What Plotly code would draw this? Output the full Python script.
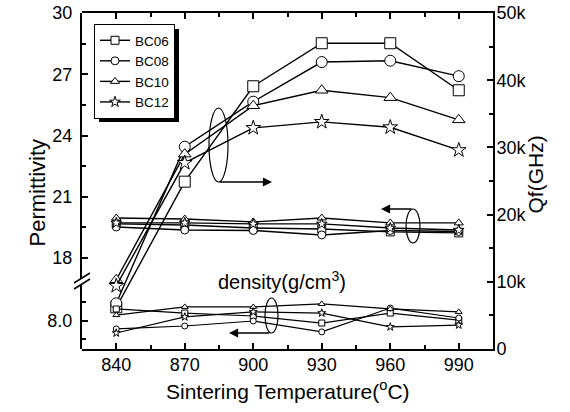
import plotly.graph_objects as go

temps = [840, 870, 900, 930, 960, 990]
names = ["BC06", "BC08", "BC10", "BC12"]
symbols = ["square", "circle", "triangle-up", "star"]

qf = {
    "BC06": [6200, 24900, 39100, 45500, 45500, 38500],
    "BC08": [6800, 30100, 36800, 42700, 42900, 40600],
    "BC10": [10300, 29000, 36200, 38500, 37400, 34100],
    "BC12": [9400, 27700, 32900, 33800, 33000, 29600],
}
permittivity = {
    "BC06": [19.67, 19.62, 19.47, 19.42, 19.28, 19.23],
    "BC08": [19.52, 19.37, 19.35, 19.13, 19.35, 19.30],
    "BC10": [19.96, 19.91, 19.77, 19.96, 19.72, 19.72],
    "BC12": [19.72, 19.72, 19.67, 19.67, 19.47, 19.37],
}
density = {
    "BC06": [8.065, 8.043, 8.027, 7.989, 8.043, 8.005],
    "BC08": [7.957, 7.973, 8.000, 7.941, 8.070, 8.016],
    "BC10": [8.032, 8.076, 8.076, 8.092, 8.065, 8.049],
    "BC12": [7.935, 8.022, 8.049, 8.043, 7.968, 7.978],
}

FONT = "Liberation Sans, Arial, sans-serif"
W, H = 570, 412
PL, PR, PT, PB = 82, 493, 13, 349  # plot area in pixels
L, T, R, B = PL, PT, W - PR, H - PB
PW, PH = PR - PL, PB - PT


def px(xp):
    return (xp - PL) / PW


def py(yp):
    return (PB - yp) / PH


fig = go.Figure()

for n, s in zip(names, symbols):
    fig.add_trace(go.Scatter(
        x=temps, y=qf[n], xaxis="x", yaxis="y", mode="lines+markers",
        line=dict(color="black", width=1.4), showlegend=False, legendgroup=n,
        marker=dict(symbol=s, size=11, color="white", line=dict(color="black", width=1)),
    ))
for n, s in zip(names, symbols):
    fig.add_trace(go.Scatter(
        x=temps, y=permittivity[n], xaxis="x", yaxis="y2", mode="lines+markers", name=n,
        line=dict(color="black", width=1.4), showlegend=True, legendgroup=n,
        marker=dict(symbol=s, size=8, color="white", line=dict(color="black", width=1)),
    ))
for n, s in zip(names, symbols):
    fig.add_trace(go.Scatter(
        x=temps, y=density[n], xaxis="x", yaxis="y3", mode="lines+markers",
        line=dict(color="black", width=1.2), showlegend=False, legendgroup=n,
        marker=dict(symbol=s, size=6, color="white", line=dict(color="black", width=1)),
    ))

axis_common = dict(showgrid=False, zeroline=False, showline=True, linecolor="black",
                   linewidth=2, ticks="inside", ticklen=6, tickwidth=1.5, tickcolor="black",
                   automargin=False,
                   tickfont=dict(family=FONT, size=18, color="black"))

fig.update_layout(
    width=W, height=H, margin=dict(l=L, r=R, t=T, b=B, autoexpand=False),
    paper_bgcolor="white", plot_bgcolor="rgba(0,0,0,0)",
    font=dict(family=FONT, color="black"),
    xaxis=dict(range=[825, 1005], domain=[0, 1], anchor="y", tick0=840, dtick=30,
               mirror="ticks", ticklabelstandoff=-2,
               minor=dict(dtick=15, tick0=840, ticks="inside", ticklen=4, tickcolor="black"),
               **axis_common),
    yaxis=dict(range=[0, 50000], domain=[0, 1], side="right", anchor="x", dtick=10000,
               tickformat="~s", ticklabelstandoff=-2,
               minor=dict(dtick=5000, ticks="inside", ticklen=4, tickcolor="black"),
               **axis_common),
    yaxis2=dict(range=[17.0, 30], domain=[0.21, 1], side="left", anchor="x", tick0=0, dtick=3,
                ticklabelstandoff=4,
                minor=dict(dtick=1.5, tick0=0, ticks="inside", ticklen=4, tickcolor="black"),
                **axis_common),
    yaxis3=dict(range=[7.8486, 8.1937], domain=[0, 0.19], side="left", anchor="x", tick0=8.0,
                dtick=0.2, tickformat=".1f", ticklabelstandoff=4,
                minor=dict(dtick=0.1, tick0=8.0, ticks="inside", ticklen=4, tickcolor="black"),
                **axis_common),
    legend=dict(x=px(94), y=py(24), xanchor="left", yanchor="top", bgcolor="white",
                bordercolor="black", borderwidth=1, font=dict(family=FONT, size=13.5),
                tracegroupgap=0, itemwidth=30),
)

shapes = []
# legend shadow
shapes.append(dict(type="rect", xref="paper", yref="paper", x0=px(99), x1=px(179),
                   y0=py(122), y1=py(29), fillcolor="black", line=dict(width=0), layer="above"))
# axis break marks
for dy in (-3, 3):
    shapes.append(dict(type="line", xref="paper", yref="paper", x0=px(74), x1=px(90),
                       y0=py(286 + dy), y1=py(276 + dy), line=dict(color="black", width=1.5)))
# ellipses
shapes.append(dict(type="circle", xref="paper", yref="paper", x0=px(209), x1=px(228),
                   y0=py(182), y1=py(108), line=dict(color="black", width=1.2)))
shapes.append(dict(type="circle", xref="paper", yref="paper", x0=px(406), x1=px(420),
                   y0=py(243), y1=py(209), line=dict(color="black", width=1.2)))
shapes.append(dict(type="circle", xref="paper", yref="paper", x0=px(265), x1=px(278),
                   y0=py(333), y1=py(298), line=dict(color="black", width=1.2)))
fig.update_layout(shapes=shapes)

ann = []
# arrows (tail offsets in pixels)
for (x0, y0, x1, y1) in [(218, 182, 272, 182), (413, 209, 381, 209), (271, 333, 229, 333)]:
    ann.append(dict(xref="paper", yref="paper", x=px(x1), y=py(y1), ax=x0 - x1, ay=y0 - y1,
                    axref="pixel", ayref="pixel", text="", showarrow=True,
                    arrowhead=2, arrowsize=1.3, arrowwidth=1.4, arrowcolor="black"))
ann.append(dict(xref="paper", yref="paper", x=px(282), y=py(295), text="density(g/cm<sup>3</sup>)",
                showarrow=False, font=dict(family=FONT, size=20)))
ann.append(dict(xref="paper", yref="paper", x=px(22), y=py(193), text="Permittivity",
                textangle=-90, showarrow=False, font=dict(family=FONT, size=22)))
ann.append(dict(xref="paper", yref="paper", x=px(549), y=py(175), text="Qf(GHz)",
                textangle=-90, showarrow=False, font=dict(family=FONT, size=21)))
ann.append(dict(xref="paper", yref="paper", x=px(288), y=py(405),
                text="Sintering Temperature(<sup>o</sup>C)",
                showarrow=False, font=dict(family=FONT, size=21)))
fig.update_layout(annotations=ann)

fig.write_html("out.html", config={"displayModeBar": False},
               post_script="document.body.style.margin='0';")
